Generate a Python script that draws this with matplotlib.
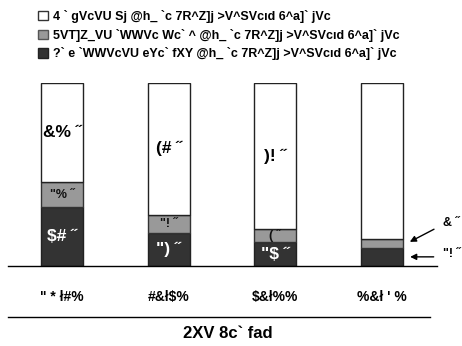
import matplotlib
matplotlib.use("Agg")
import matplotlib.pyplot as plt
from matplotlib.patches import Patch
from matplotlib.lines import Line2D

plt.rcParams['font.family'] = ['Liberation Sans', 'DejaVu Sans']
plt.rcParams['font.weight'] = 'bold'

# -----------------------------------------------------------------
# data (text as it appears in the picture)

ages = ['" * ł#%', '#&ł$%', '$&ł%%', "%&ł ' %"]
not_offered = [32, 18, 13, 10]
declined = [14, 10, 7, 5]
covered = [54, 72, 80, 85]
legend_labels = ["4 ` gVcVU Sj @h_ `c 7R^Z]j >V^SVcıd 6^a]` jVc",
                 "5VT]Z_VU `WWVc Wc` ^ @h_ `c 7R^Z]j >V^SVcıd 6^a]` jVc",
                 "?` e `WWVcVU eYc` fXY @h_ `c 7R^Z]j >V^SVcıd 6^a]` jVc"]
xlabel = "2XV 8c` fad"

colors = {'covered': 'white', 'declined': '#999999', 'not': '#333333'}

def garble(value):
    # digits are drawn shifted down by 15 code points, percent sign as a double acute
    return ''.join(chr(ord(c) - 15) for c in str(value)) + ' ˝'

# -----------------------------------------------------------------

fig = plt.figure(figsize=(4.62, 3.46), dpi=100)
ax = fig.add_axes([8/462, 80/346, 429/462, 183/346])

x = list(range(len(ages)))
width = 0.394
ax.bar(x, not_offered, width, color=colors['not'], edgecolor='#222222', lw=1)
ax.bar(x, declined, width, bottom=not_offered, color=colors['declined'], edgecolor='#333333', lw=1)
bottoms = [a + b for a, b in zip(not_offered, declined)]
ax.bar(x, covered, width, bottom=bottoms, color=colors['covered'], edgecolor='#222222', lw=1)

# labels inside the segments (the last bar is labelled from the side)
for i in x[:-1]:
    ax.text(i, bottoms[i] + covered[i]/2, garble(covered[i]), ha='center', va='center',
            fontsize=12.5, color='black')
    ax.text(i, not_offered[i] + declined[i]/2, garble(declined[i]), ha='center', va='center',
            fontsize=9, color='#111111')
    ax.text(i, not_offered[i]/2, garble(not_offered[i]), ha='center', va='center',
            fontsize=12.5, color='white')

# side annotations for the last bar
i = x[-1]
ax.annotate('', xy=(i + width/2 + 0.04, not_offered[i] + declined[i]/2), xytext=(i + 0.51, 20.8),
            arrowprops=dict(arrowstyle='-|>', color='black', lw=1, mutation_scale=9),
            annotation_clip=False)
ax.text(i + 0.57, 23.5, garble(declined[i]), ha='left', va='center', fontsize=9, clip_on=False)
ax.annotate('', xy=(i + width/2 + 0.04, not_offered[i]/2), xytext=(i + 0.51, not_offered[i]/2),
            arrowprops=dict(arrowstyle='-|>', color='black', lw=1, mutation_scale=9),
            annotation_clip=False)
ax.text(i + 0.57, not_offered[i]/2 + 1.5, garble(not_offered[i]), ha='left', va='center',
        fontsize=9, clip_on=False)

ax.set_xlim(-0.506, 3.515)
ax.set_ylim(0, 100)
ax.set_xticks(x)
ax.set_xticklabels(ages, fontsize=10)
ax.tick_params(axis='x', length=0, pad=17)
ax.set_yticks([])
for side in ('top', 'right', 'left'):
    ax.spines[side].set_visible(False)
ax.spines['bottom'].set_linewidth(1)
ax.patch.set_visible(False)

# second rule and axis title
fig.add_artist(Line2D([8/462, 430/462], [1 - 317/346, 1 - 317/346], color='black', lw=1))
fig.text(228/462, 1 - 333/346, xlabel, ha='center', va='center', fontsize=12)

# legend
handles = [Patch(facecolor=colors['covered'], edgecolor='#333333', lw=1),
           Patch(facecolor=colors['declined'], edgecolor='#555555', lw=1),
           Patch(facecolor=colors['not'], edgecolor='#222222', lw=1)]
fig.legend(handles, legend_labels, loc='upper left', bbox_to_anchor=(33/462, 1 - 5/346),
           frameon=False, fontsize=9, handlelength=0.8, handleheight=0.8, handletextpad=0.4,
           labelspacing=0.45, borderaxespad=0)

fig.savefig('out.png', dpi=100)
